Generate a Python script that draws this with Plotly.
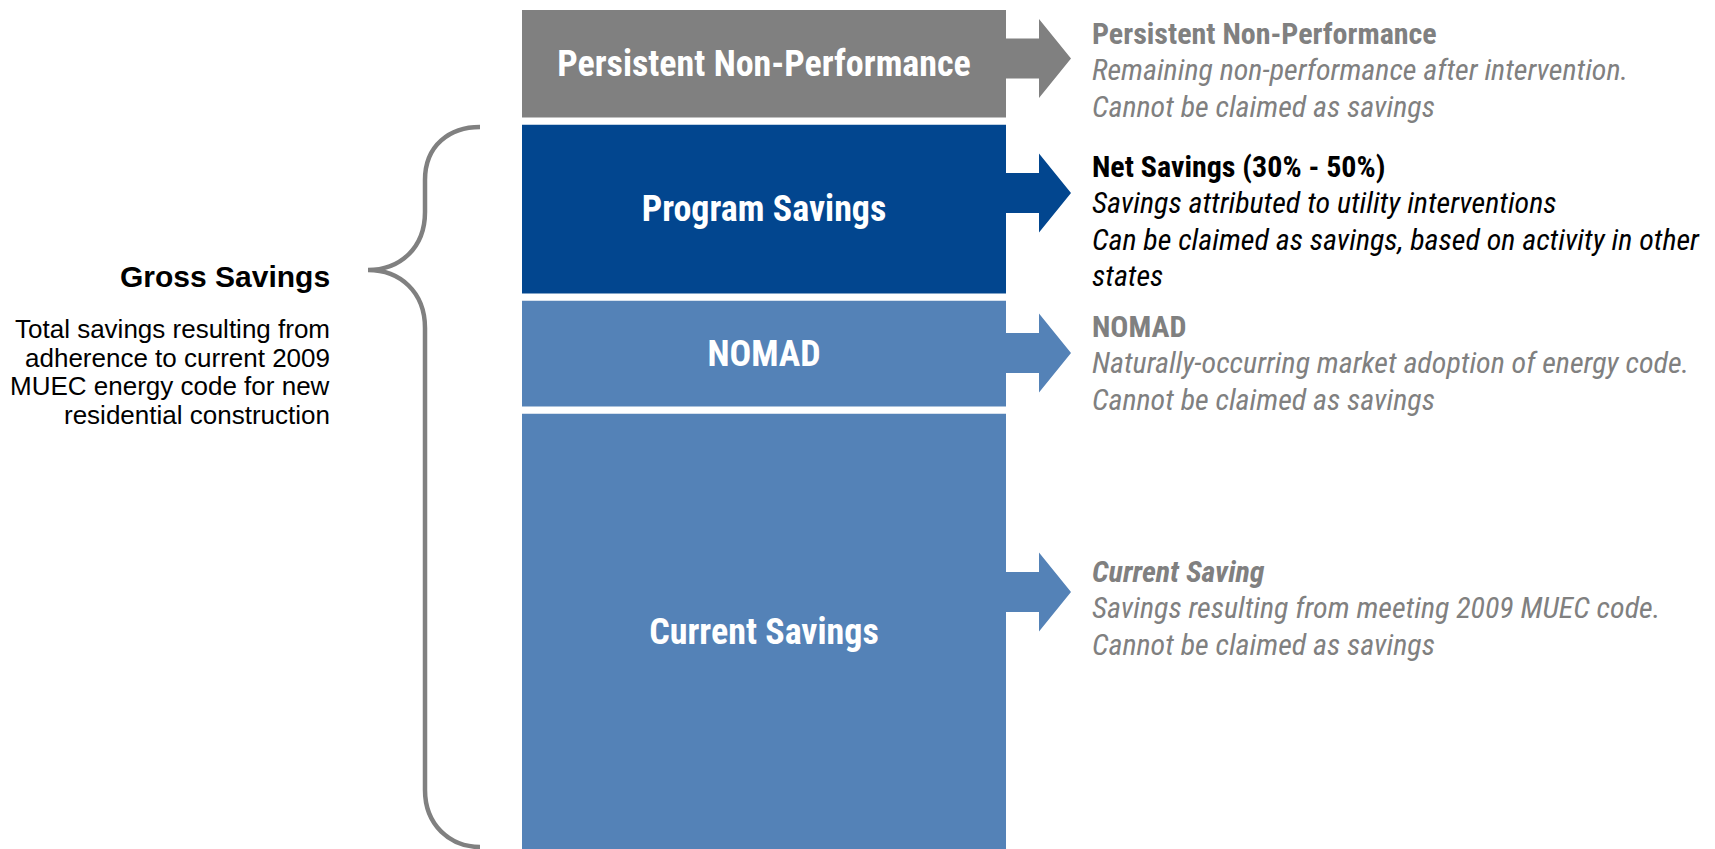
import plotly.graph_objects as go

# ---------------- data ----------------
segments = ["Current Savings", "NOMAD", "Program Savings", "Persistent Non-Performance"]
segment_values = [443, 113, 176, 114.5]          # stacked heights (chart units)
segment_colors = ["#5482B7", "#5482B7", "#02468F", "#808080"]

block_titles = ["Persistent Non-Performance", "Net Savings (30% - 50%)", "NOMAD", "Current Saving"]
block_lines = [
    ["Remaining non-performance after intervention.", "Cannot be claimed as savings"],
    ["Savings attributed to utility interventions",
     "Can be claimed as savings, based on activity in other", "states"],
    ["Naturally-occurring market adoption of energy code.", "Cannot be claimed as savings"],
    ["Savings resulting from meeting 2009 MUEC code.", "Cannot be claimed as savings"],
]
block_text_colors = ["#808080", "#000000", "#808080", "#808080"]
block_title_italic = [False, False, False, True]
block_arrow_colors = ["#808080", "#02468F", "#5482B7", "#5482B7"]

left_title = "Gross Savings"
left_lines = ["Total savings resulting from", "adherence to current 2009",
              "MUEC energy code for new", "residential construction"]

# ---------------- layout constants (pixels) ----------------
W, H = 1715, 849
NARROW = "Liberation Sans Narrow, Arial Narrow, Roboto Condensed, sans-serif"
REG = "Liberation Sans, Arial, Helvetica, sans-serif"


def py(p):
    """pixel row (from top) -> y data value"""
    return H - p


BAR_BASE = -4
BAR_X = 764
BAR_W = 491

fig = go.Figure()

# stacked bar segments
base = BAR_BASE
for name, val, col in zip(segments, segment_values, segment_colors):
    fig.add_trace(go.Bar(
        x=[BAR_X], y=[val], base=[base], width=[BAR_W],
        marker=dict(color=col, line=dict(color="white", width=7)),
        text=[f"<b>{name}</b>"], textposition="inside", insidetextanchor="middle",
        textangle=0, constraintext="none",
        textfont=dict(family=NARROW, size=36, color="white"),
        hoverinfo="skip", showlegend=False,
    ))
    base += val

# arrows
arrow_centers = [58.5, 193, 353, 592]
for cy, col in zip(arrow_centers, block_arrow_colors):
    xs = [1004, 1039, 1039, 1071, 1039, 1039, 1004, 1004]
    ys = [cy - 20, cy - 20, cy - 39.5, cy, cy + 39.5, cy + 20, cy + 20, cy - 20]
    fig.add_trace(go.Scatter(
        x=xs, y=[py(v) for v in ys], mode="lines", fill="toself",
        fillcolor=col, line=dict(width=0, color=col),
        hoverinfo="skip", showlegend=False,
    ))

annotations = []
# right-hand text blocks
block_tops = [33, 166, 326, 571]
STEP = 36.5
TX = 1090
for top, title, lines, col, ital in zip(block_tops, block_titles, block_lines,
                                        block_text_colors, block_title_italic):
    t = f"<b>{title}</b>"
    if ital:
        t = f"<i>{t}</i>"
    annotations.append(dict(x=TX, y=py(top), text=t, xanchor="left", yanchor="middle",
                            showarrow=False, font=dict(family=NARROW, size=30, color=col)))
    for i, ln in enumerate(lines):
        annotations.append(dict(x=TX, y=py(top + STEP * (i + 1)), text=f"<i>{ln}</i>",
                                xanchor="left", yanchor="middle", showarrow=False,
                                font=dict(family=NARROW, size=30, color=col)))

# left text
annotations.append(dict(x=332, y=py(276), text=f"<b>{left_title}</b>", xanchor="right",
                        yanchor="middle", showarrow=False,
                        font=dict(family=REG, size=30, color="#000000")))
for i, ln in enumerate(left_lines):
    annotations.append(dict(x=332, y=py(329 + 28.6 * i), text=ln, xanchor="right",
                            yanchor="middle", showarrow=False,
                            font=dict(family=REG, size=26, color="#000000")))


def pt(x, p):
    return f"{x},{py(p)}"


brace = ("M " + pt(480, 127) + " C " + pt(450, 127) + " " + pt(425, 145) + " " + pt(425, 180)
         + " L " + pt(425, 212) + " C " + pt(425, 248) + " " + pt(400, 270) + " " + pt(368, 270)
         + " C " + pt(400, 270) + " " + pt(425, 292) + " " + pt(425, 328)
         + " L " + pt(425, 790) + " C " + pt(425, 825) + " " + pt(450, 847) + " " + pt(480, 847))

fig.update_layout(
    width=W, height=H,
    margin=dict(l=0, r=0, t=0, b=0),
    paper_bgcolor="white", plot_bgcolor="white",
    barmode="overlay",
    xaxis=dict(range=[0, W], visible=False, fixedrange=True),
    yaxis=dict(range=[0, H], visible=False, fixedrange=True),
    annotations=annotations,
    shapes=[dict(type="path", path=brace, xref="x", yref="y",
                 line=dict(color="#808080", width=4.5))],
    uniformtext=dict(mode=False),
)

fig.write_html("out.html", config={"displayModeBar": False},
               post_script="document.body.style.margin='0';document.body.style.overflow='hidden';")
